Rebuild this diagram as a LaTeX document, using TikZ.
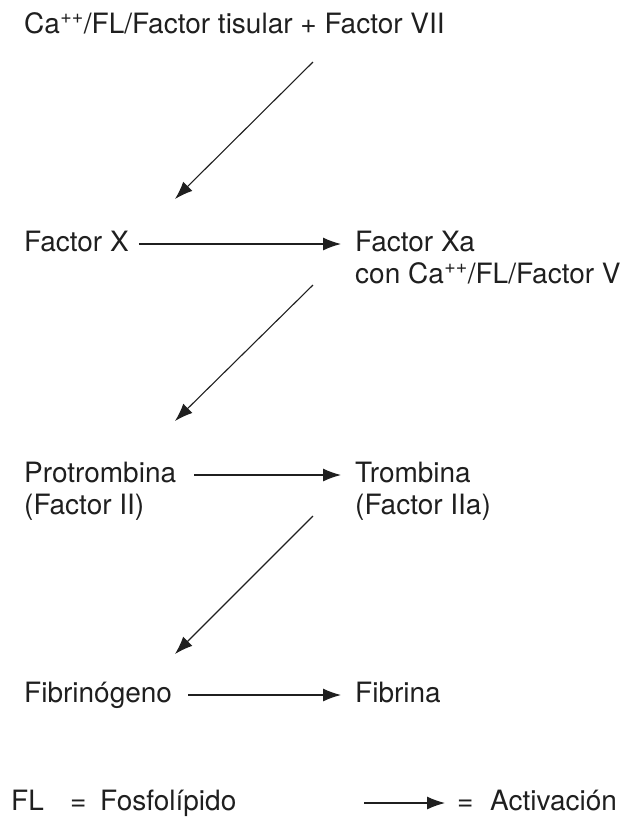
\documentclass[tikz,border=0pt]{standalone}
\usepackage{fontspec}
\setmainfont{TeX Gyre Heros}
\usetikzlibrary{arrows.meta}
\newcommand{\pp}{\textsuperscript{\kern0.5pt++}}
\tikzset{
  lbl/.style={anchor=base west, inner sep=0pt, font=\fontsize{28}{31}\selectfont, text=black!88},
  act/.style={-{Latex[length=18pt,width=13pt]}, line width=1.1pt, black!88}
}
\begin{document}
\begin{tikzpicture}[x=1pt,y=-1pt]
\useasboundingbox (0,0) rectangle (621,820);

% cascade labels
\node[lbl] (tf)   at (24,33)  {Ca\pp/FL/Factor tisular + Factor VII};
\node[lbl] (fx)   at (24,251) {Factor X};
\node[lbl] (fxa)  at (355,251) {Factor Xa};
\node[lbl] (fxac) at (355,283) {con Ca\pp/FL/Factor V};
\node[lbl] (pt)   at (24,482) {Protrombina};
\node[lbl] (pt2)  at (24,514) {(Factor II)};
\node[lbl] (tr)   at (355,482) {Trombina};
\node[lbl] (tr2)  at (355,514) {(Factor IIa)};
\node[lbl] (fg)   at (24,702) {Fibrinógeno};
\node[lbl] (fb)   at (355,702) {Fibrina};

% legend
\node[lbl] (lfl)  at (11,810) {FL};
\node[lbl] (leq1) at (70,810) {=};
\node[lbl] (lfos) at (100,810) {Fosfolípido};
\node[lbl] (leq2) at (457,810) {=};
\node[lbl] (lact) at (490,810) {Activación};

% ends of the diagonal connectors
\coordinate (d1s) at (313,62);  \coordinate (d1e) at (175,199);
\coordinate (d2s) at (313,285); \coordinate (d2e) at (175,421);
\coordinate (d3s) at (313,516); \coordinate (d3e) at (175,654);
\coordinate (lgs) at (364,803);

% diagonal steps of the cascade
\draw[act] (d1s) -- (d1e);
\draw[act] (d2s) -- (d2e);
\draw[act] (d3s) -- (d3e);

% activation arrows
\draw[act] ([xshift=10pt,yshift=7pt]fx.base east) -- ([xshift=-14pt,yshift=7pt]fxa.base west);
\draw[act] ([xshift=18pt,yshift=7pt]pt.base east) -- ([xshift=-14pt,yshift=7pt]tr.base west);
\draw[act] ([xshift=16pt,yshift=7pt]fg.base east) -- ([xshift=-14pt,yshift=7pt]fb.base west);
\draw[act] (lgs) -- ([xshift=-12pt,yshift=7pt]leq2.base west);
\end{tikzpicture}
\end{document}
